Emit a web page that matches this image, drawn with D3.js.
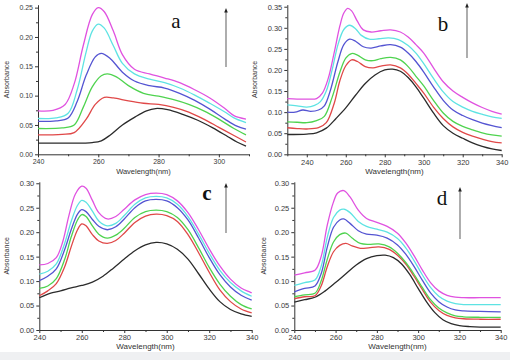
<!DOCTYPE html>
<html>
<head>
<meta charset="utf-8">
<script src="https://cdn.jsdelivr.net/npm/d3@7"></script>
<style>
  body { margin: 0; background: #fff; }
  svg { display: block; font-family: Arial, "Liberation Sans", sans-serif; }
  .tick text { fill: #3a3a3a; }
  .axis path, .axis line { stroke: #333; }
</style>
</head>
<body>
<div id="chart"></div>
<script>
// Series colours, same order in every panel (arrow shows increasing order)
const seriesColors = ['#2b2b2b', '#e04848', '#4fd34f', '#5454d2', '#5ee3e3', '#e052e0'];

// Panel a: [wavelength nm, absorbance]
const aBlack = [[240,0.019],[250,0.019],[258,0.020],[261,0.023],[264,0.033],[268,0.050],[272,0.063],[276,0.074],[279,0.078],[283,0.076],[288,0.068],[293,0.058],[298,0.045],[303,0.030],[306,0.021],[309,0.014]];
const aRed = [[240,0.033],[248,0.034],[252,0.037],[256,0.060],[259,0.085],[262,0.097],[265,0.096],[270,0.091],[275,0.087],[280,0.085],[285,0.080],[290,0.072],[295,0.060],[300,0.046],[305,0.032],[309,0.021]];
const aGreen = [[240,0.044],[248,0.045],[252,0.050],[255,0.080],[258,0.115],[261,0.134],[263,0.137],[266,0.132],[270,0.117],[275,0.104],[280,0.099],[285,0.093],[290,0.085],[295,0.074],[300,0.060],[305,0.044],[309,0.033]];
const aBlue = [[240,0.056],[246,0.057],[250,0.062],[253,0.090],[256,0.135],[259,0.166],[261,0.172],[264,0.163],[268,0.140],[272,0.125],[277,0.117],[282,0.113],[287,0.104],[292,0.092],[297,0.077],[302,0.060],[306,0.048],[309,0.043]];
const aCyan = [[240,0.061],[246,0.062],[250,0.070],[253,0.110],[256,0.175],[258,0.210],[260,0.222],[262,0.215],[265,0.185],[268,0.155],[272,0.137],[277,0.128],[282,0.122],[287,0.113],[292,0.101],[297,0.087],[302,0.072],[305,0.062],[309,0.054]];
const aMagenta = [[240,0.074],[245,0.075],[249,0.085],[252,0.120],[255,0.185],[258,0.238],[260,0.250],[262,0.243],[265,0.210],[268,0.170],[272,0.145],[277,0.137],[282,0.130],[287,0.122],[292,0.110],[297,0.096],[302,0.078],[305,0.066],[309,0.060]];

// Panel b
const bBlack = [[230,0.047],[240,0.048],[245,0.051],[250,0.062],[255,0.085],[260,0.110],[265,0.140],[270,0.168],[275,0.188],[280,0.200],[284,0.202],[288,0.197],[292,0.182],[296,0.160],[300,0.133],[305,0.098],[310,0.068],[315,0.050],[320,0.038],[325,0.027],[330,0.019],[335,0.013],[340,0.009]];
const bRed = [[230,0.063],[235,0.061],[240,0.060],[246,0.063],[250,0.075],[254,0.120],[257,0.175],[260,0.210],[263,0.224],[266,0.220],[270,0.208],[274,0.205],[278,0.209],[283,0.212],[288,0.205],[292,0.190],[296,0.168],[300,0.145],[305,0.112],[310,0.085],[315,0.065],[320,0.052],[325,0.043],[330,0.036],[335,0.030],[340,0.027]];
const bGreen = [[230,0.077],[235,0.076],[240,0.075],[245,0.080],[249,0.090],[253,0.135],[257,0.195],[260,0.228],[263,0.239],[266,0.235],[270,0.224],[274,0.222],[278,0.227],[283,0.230],[288,0.224],[292,0.208],[296,0.185],[300,0.162],[305,0.128],[310,0.098],[315,0.078],[320,0.066],[325,0.058],[330,0.051],[335,0.046],[340,0.043]];
const bBlue = [[230,0.100],[234,0.100],[238,0.105],[242,0.102],[246,0.105],[249,0.115],[252,0.150],[256,0.220],[259,0.260],[262,0.273],[265,0.268],[269,0.255],[273,0.252],[278,0.257],[283,0.260],[288,0.254],[292,0.240],[296,0.220],[300,0.195],[305,0.160],[310,0.128],[315,0.105],[320,0.092],[325,0.082],[330,0.074],[335,0.068],[340,0.063]];
const bCyan = [[230,0.117],[235,0.115],[240,0.112],[244,0.116],[247,0.125],[250,0.150],[253,0.200],[256,0.260],[259,0.296],[262,0.306],[265,0.298],[268,0.282],[272,0.273],[277,0.274],[282,0.276],[287,0.272],[292,0.258],[296,0.240],[300,0.215],[305,0.180],[310,0.148],[315,0.125],[320,0.112],[325,0.102],[330,0.095],[335,0.089],[340,0.085]];
const bMagenta = [[230,0.132],[235,0.131],[240,0.131],[245,0.132],[248,0.145],[251,0.180],[254,0.240],[257,0.305],[259,0.335],[261,0.346],[263,0.340],[266,0.315],[269,0.295],[273,0.290],[278,0.293],[283,0.295],[288,0.290],[292,0.278],[296,0.260],[300,0.240],[305,0.205],[310,0.172],[315,0.150],[320,0.135],[325,0.122],[330,0.111],[335,0.102],[340,0.095]];

// Panel c
const cBlack = [[240,0.066],[245,0.075],[250,0.080],[255,0.086],[260,0.091],[265,0.098],[270,0.110],[275,0.127],[280,0.145],[285,0.162],[290,0.174],[295,0.179],[300,0.176],[305,0.165],[310,0.145],[315,0.115],[320,0.084],[325,0.058],[330,0.042],[335,0.033],[340,0.028]];
const cRed = [[240,0.070],[244,0.080],[248,0.095],[252,0.130],[255,0.170],[258,0.205],[260,0.217],[262,0.213],[265,0.195],[268,0.182],[272,0.177],[276,0.183],[280,0.198],[285,0.220],[290,0.233],[295,0.237],[300,0.234],[305,0.222],[310,0.195],[315,0.158],[320,0.118],[325,0.082],[330,0.058],[335,0.043],[340,0.035]];
const cGreen = [[240,0.085],[244,0.090],[248,0.105],[252,0.145],[255,0.190],[258,0.225],[260,0.236],[262,0.232],[265,0.213],[268,0.196],[272,0.188],[276,0.194],[280,0.208],[285,0.230],[290,0.242],[295,0.245],[300,0.242],[305,0.230],[310,0.205],[315,0.168],[320,0.128],[325,0.094],[330,0.069],[335,0.052],[340,0.043]];
const cBlue = [[240,0.101],[244,0.110],[248,0.125],[252,0.165],[255,0.205],[258,0.237],[260,0.246],[262,0.242],[265,0.226],[268,0.212],[272,0.205],[276,0.211],[280,0.227],[285,0.250],[290,0.264],[295,0.267],[300,0.264],[305,0.250],[310,0.225],[315,0.188],[320,0.148],[325,0.113],[330,0.088],[335,0.071],[340,0.061]];
const cCyan = [[240,0.114],[244,0.120],[248,0.135],[252,0.178],[255,0.222],[258,0.255],[260,0.265],[262,0.261],[265,0.243],[268,0.223],[272,0.213],[276,0.218],[280,0.234],[285,0.257],[290,0.270],[295,0.273],[300,0.270],[305,0.257],[310,0.232],[315,0.196],[320,0.157],[325,0.122],[330,0.097],[335,0.080],[340,0.069]];
const cMagenta = [[240,0.133],[244,0.136],[248,0.148],[251,0.180],[254,0.235],[257,0.278],[260,0.294],[262,0.290],[265,0.265],[268,0.240],[272,0.227],[276,0.232],[280,0.247],[285,0.266],[290,0.277],[295,0.280],[300,0.277],[305,0.264],[310,0.240],[315,0.205],[320,0.166],[325,0.131],[330,0.104],[335,0.086],[340,0.076]];

// Panel d
const dBlack = [[240,0.057],[245,0.062],[250,0.067],[255,0.080],[260,0.097],[265,0.115],[270,0.133],[275,0.146],[280,0.152],[284,0.153],[288,0.148],[292,0.135],[296,0.113],[300,0.085],[304,0.058],[308,0.036],[312,0.021],[316,0.013],[320,0.009],[325,0.007],[330,0.006],[340,0.006]];
const dRed = [[240,0.064],[245,0.068],[250,0.070],[253,0.090],[256,0.130],[259,0.160],[262,0.173],[265,0.177],[268,0.172],[272,0.167],[276,0.168],[281,0.170],[286,0.165],[290,0.153],[294,0.135],[298,0.110],[302,0.083],[306,0.057],[310,0.040],[314,0.030],[318,0.025],[322,0.023],[330,0.022],[340,0.022]];
const dGreen = [[240,0.068],[245,0.072],[250,0.075],[253,0.100],[256,0.145],[259,0.180],[262,0.195],[265,0.198],[268,0.188],[272,0.177],[276,0.175],[281,0.176],[286,0.170],[290,0.157],[294,0.138],[298,0.114],[302,0.087],[306,0.062],[310,0.045],[314,0.035],[318,0.029],[322,0.027],[330,0.026],[340,0.026]];
const dBlue = [[240,0.078],[245,0.085],[250,0.090],[253,0.115],[256,0.170],[259,0.210],[262,0.225],[264,0.227],[267,0.218],[271,0.203],[275,0.196],[280,0.194],[285,0.188],[290,0.174],[294,0.155],[298,0.130],[302,0.102],[306,0.076],[310,0.058],[314,0.047],[318,0.041],[322,0.039],[330,0.038],[340,0.037]];
const dCyan = [[240,0.091],[245,0.097],[250,0.102],[253,0.130],[256,0.190],[259,0.230],[262,0.245],[264,0.247],[267,0.240],[271,0.222],[275,0.212],[280,0.206],[285,0.200],[290,0.187],[294,0.168],[298,0.142],[302,0.113],[306,0.087],[310,0.069],[314,0.059],[318,0.054],[322,0.052],[330,0.052],[340,0.052]];
const dMagenta = [[240,0.112],[245,0.117],[250,0.122],[253,0.150],[256,0.215],[259,0.262],[261,0.280],[264,0.285],[267,0.272],[271,0.245],[275,0.228],[280,0.220],[285,0.212],[290,0.198],[294,0.178],[298,0.152],[302,0.123],[306,0.097],[310,0.080],[314,0.071],[318,0.067],[322,0.066],[330,0.066],[340,0.066]];

// Axis ticks per panel
const xTicksA = [240, 260, 280, 300];
const xTicksB = [240, 260, 280, 300, 320, 340];
const xTicksCD = [240, 260, 280, 300, 320, 340];
const yTicksA = [0, 0.05, 0.10, 0.15, 0.20, 0.25];
const yTicksB = [0, 0.05, 0.10, 0.15, 0.20, 0.25, 0.30, 0.35];
const yTicksCD = [0, 0.05, 0.10, 0.15, 0.20, 0.25, 0.30];

class SpectraPanel {
  constructor(_config, _data) {
    this.config = _config;
    this.data = _data;
    this.initVis();
  }

  initVis() {
    let vis = this;
    const c = vis.config;

    vis.g = c.svg.append('g');

    vis.xScale = d3.scaleLinear().domain(c.xDomain).range([c.left, c.right]);
    vis.yScale = d3.scaleLinear().domain(c.yDomain).range([c.bottom, c.top]);

    // minor ticks first, so majors sit on top
    const xMinor = d3.range(c.xDomain[0], c.xDomain[1] + 0.1, 10).filter(v => !c.xTicks.includes(v));
    const yMinor = d3.range(0.025, c.yDomain[1], 0.05);

    vis.g.append('g')
      .attr('class', 'axis')
      .attr('transform', `translate(0,${c.bottom})`)
      .call(d3.axisBottom(vis.xScale).tickValues(xMinor).tickSize(2).tickFormat(''))
      .call(g => g.select('.domain').remove());

    vis.g.append('g')
      .attr('class', 'axis')
      .attr('transform', `translate(${c.left},0)`)
      .call(d3.axisLeft(vis.yScale).tickValues(yMinor).tickSize(2).tickFormat(''))
      .call(g => g.select('.domain').remove());

    vis.g.append('g')
      .attr('class', 'axis')
      .attr('transform', `translate(0,${c.bottom})`)
      .call(d3.axisBottom(vis.xScale).tickValues(c.xTicks).tickSize(3).tickSizeOuter(0).tickPadding(2))
      .call(g => g.selectAll('text').attr('font-size', c.tickFont));

    vis.g.append('g')
      .attr('class', 'axis')
      .attr('transform', `translate(${c.left},0)`)
      .call(d3.axisLeft(vis.yScale).tickValues(c.yTicks).tickSize(3).tickSizeOuter(0).tickPadding(2)
        .tickFormat(d3.format('.2f')))
      .call(g => g.selectAll('text').attr('font-size', c.tickFont));

    // axis titles
    vis.g.append('text')
      .attr('x', (c.left + c.right) / 2)
      .attr('y', c.bottom + c.xTitleOffset)
      .attr('text-anchor', 'middle')
      .attr('font-size', c.titleFont)
      .attr('fill', '#333')
      .text('Wavelength(nm)');

    vis.g.append('text')
      .attr('transform', `translate(${c.yTitleX},${(c.top + c.bottom) / 2}) rotate(-90)`)
      .attr('text-anchor', 'middle')
      .attr('font-size', 7)
      .attr('fill', '#333')
      .text('Absorbance');

    vis.renderVis();
  }

  renderVis() {
    let vis = this;
    const c = vis.config;

    const line = d3.line()
      .x(d => vis.xScale(d[0]))
      .y(d => vis.yScale(d[1]))
      .curve(d3.curveCatmullRom.alpha(0.5));

    vis.g.append('g')
      .selectAll('path')
      .data(vis.data)
      .join('path')
      .attr('d', line)
      .attr('fill', 'none')
      .attr('stroke', (d, i) => seriesColors[i])
      .attr('stroke-width', 1.3);

    // panel letter
    vis.g.append('text')
      .attr('x', c.letterX)
      .attr('y', c.letterY)
      .attr('text-anchor', 'middle')
      .attr('font-family', '"Liberation Serif", "DejaVu Serif", serif')
      .attr('font-size', 21)
      .attr('font-weight', c.letterBold ? 'bold' : 'normal')
      .attr('fill', '#111')
      .text(c.letter);

    // arrow showing increasing concentration
    vis.g.append('line')
      .attr('x1', c.arrowX).attr('x2', c.arrowX)
      .attr('y1', c.arrowY[0]).attr('y2', c.arrowY[1] + 3)
      .attr('stroke', '#777')
      .attr('stroke-width', 1.2);

    vis.g.append('path')
      .attr('d', `M${c.arrowX},${c.arrowY[1]} l-1.8,4.5 l3.6,0 Z`)
      .attr('fill', '#222');
  }
}

const svg = d3.select('#chart').append('svg')
  .attr('width', 510)
  .attr('height', 360);

svg.append('rect').attr('width', 510).attr('height', 360).attr('fill', '#fff');
svg.append('rect').attr('y', 352).attr('width', 510).attr('height', 8).attr('fill', '#eff0f2');

new SpectraPanel({
  svg: svg, letter: 'a', letterX: 176, letterY: 28, letterBold: false,
  xDomain: [240, 310], yDomain: [0, 0.255], xTicks: xTicksA, yTicks: yTicksA,
  left: 38, right: 249, top: 4.7, bottom: 154.3,
  tickFont: 7, titleFont: 7.5, xTitleOffset: 20, yTitleX: 9,
  arrowX: 226, arrowY: [67, 8]
}, [aBlack, aRed, aGreen, aBlue, aCyan, aMagenta]);

new SpectraPanel({
  svg: svg, letter: 'b', letterX: 443, letterY: 31, letterBold: false,
  xDomain: [230, 340], yDomain: [0, 0.355], xTicks: xTicksB, yTicks: yTicksB,
  left: 287.3, right: 501.7, top: 4.6, bottom: 154.3,
  tickFont: 7.5, titleFont: 8, xTitleOffset: 20, yTitleX: 257,
  arrowX: 467, arrowY: [58, 3]
}, [bBlack, bRed, bGreen, bBlue, bCyan, bMagenta]);

new SpectraPanel({
  svg: svg, letter: 'c', letterX: 207, letterY: 200, letterBold: true,
  xDomain: [240, 340], yDomain: [0, 0.303], xTicks: xTicksCD, yTicks: yTicksCD,
  left: 39.3, right: 251.7, top: 181.8, bottom: 330,
  tickFont: 7.5, titleFont: 8, xTitleOffset: 19, yTitleX: 9,
  arrowX: 226, arrowY: [233, 183]
}, [cBlack, cRed, cGreen, cBlue, cCyan, cMagenta]);

new SpectraPanel({
  svg: svg, letter: 'd', letterX: 442, letterY: 205, letterBold: false,
  xDomain: [240, 340], yDomain: [0, 0.303], xTicks: xTicksCD, yTicks: yTicksCD,
  left: 294.3, right: 500.7, top: 181.8, bottom: 330,
  tickFont: 7.5, titleFont: 8, xTitleOffset: 19, yTitleX: 266,
  arrowX: 460, arrowY: [239, 187]
}, [dBlack, dRed, dGreen, dBlue, dCyan, dMagenta]);
</script>
</body>
</html>
